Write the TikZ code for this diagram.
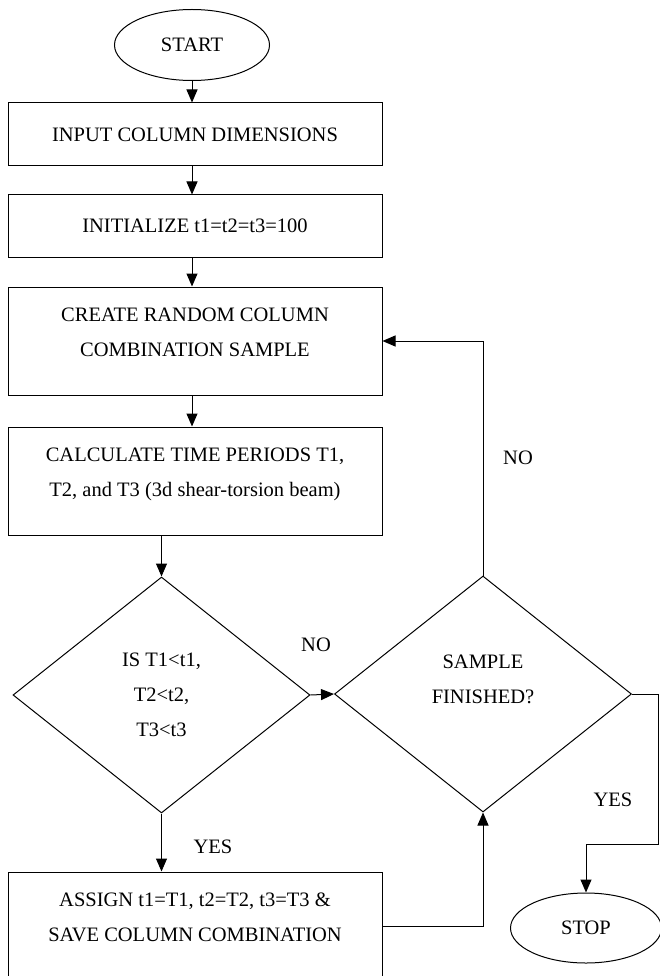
\documentclass[tikz,border=0pt]{standalone}
\usepackage{fontspec}
\setmainfont{Liberation Serif}
\usetikzlibrary{arrows.meta,shapes.geometric}
\newcommand{\MainX}{192}
\newcommand{\BoxX}{195}
\newcommand{\BoxW}{374}
\newcommand{\LeftX}{161.5}
\newcommand{\RightX}{483}
\newcommand{\DecY}{695}
\newcommand{\EdgeX}{658}

\begin{document}
\begin{tikzpicture}[
    x=1pt, y=-1pt,
    font=\fontsize{20.5}{35}\selectfont,
    line width=1pt,
    edge/.style={-{Triangle[length=13pt, width=11pt]}, line width=1pt},
    term/.style={ellipse, draw, minimum width=155pt, minimum height=71pt, inner sep=0pt},
    box/.style={rectangle, draw, minimum width=\BoxW pt, align=center, inner sep=0pt},
    tallbox/.style={box, minimum height=108pt, text depth=17pt},
    decision/.style={diamond, draw, minimum width=297pt, minimum height=236pt, align=center, inner sep=0pt},
    tag/.style={inner sep=0pt},
  ]

\useasboundingbox (0,0) rectangle (659,976);

% --- The main column ---------------------------------------------------------
\node[term] (start) at (\MainX, 45) {START};
\node[box, minimum height=63pt] (input) at (\BoxX, 134.5) {INPUT COLUMN DIMENSIONS};
\node[box, minimum height=62pt] (init) at (\BoxX, 226) {INITIALIZE t1=t2=t3=100};
\node[tallbox] (create) at (\BoxX, 341) {CREATE RANDOM COLUMN\\COMBINATION SAMPLE};
\node[tallbox] (calc) at (\BoxX, 481) {CALCULATE TIME PERIODS T1,\\T2, and T3 (3d shear-torsion beam)};

\draw[edge] (start.south) -- (start.south |- input.north);
\draw[edge] (input.south -| start.south) -- (init.north -| start.south);
\draw[edge] (init.south -| start.south) -- (create.north -| start.south);
\draw[edge] (create.south -| start.south) -- (calc.north -| start.south);

% --- The two checks --------------------------------------------------------------
\node[decision] (check) at (\LeftX, \DecY) {IS T1<t1,\\T2<t2,\\T3<t3};
\node[decision, text depth=29pt] (finished) at (\RightX, 694) {SAMPLE\\FINISHED?};
\node[tallbox] (assign) at (\BoxX, 926) {ASSIGN t1=T1, t2=T2, t3=T3 \&\\SAVE COLUMN COMBINATION};
\node[term, minimum width=151pt, minimum height=70pt] (stop) at (586, 928) {STOP};

\node[tag] (nocheck) at (316, 645) {NO};
\node[tag] (yescheck) at (213, 847) {YES};
\node[tag] (nosample) at (518, 458) {NO};
\node[tag] (yessample) at (613, 800) {YES};

\coordinate (bend) at (\EdgeX, 844);

\draw[edge] (calc.south -| check.north) -- (check.north);
\draw[edge] (check.east) -- (finished.west);
\draw[edge] (check.south) -- (assign.north -| check.south);
\draw[edge] (assign.east) -| (finished.south);
\draw[edge] (finished.north) |- (create.east);
\draw[edge] (finished.east) -| (bend) -| (stop.north);

\end{tikzpicture}
\end{document}
